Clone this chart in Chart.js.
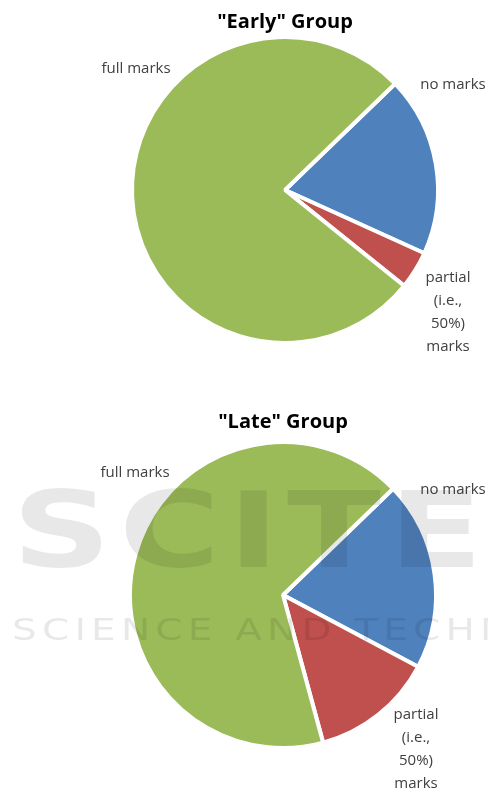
<!DOCTYPE html>
<html>
<head>
<meta charset="utf-8">
<script src="https://cdn.jsdelivr.net/npm/chart.js@4.4.1/dist/chart.umd.min.js"></script>
<style>
  html, body { margin: 0; padding: 0; background: #fff; }
  .wrap { position: relative; width: 488px; height: 792px; overflow: hidden; }
  canvas { display: block; }
  /* faint watermark over the second pie */
  .wm { position: absolute; left: 12px; white-space: nowrap; color: rgba(0,0,0,0.09);
        font-family: "DejaVu Sans", sans-serif; pointer-events: none;
        line-height: normal; transform-origin: left top; }
  .wm1 { top: 469px; font-size: 106px; font-weight: bold; letter-spacing: 6px; transform: scaleX(1.3); }
  .wm2 { top: 612px; font-size: 30px; letter-spacing: 4px; transform: scaleX(1.3); }
</style>
</head>
<body>
<div class="wrap">
  <canvas id="earlyChart" width="488" height="396"></canvas>
  <canvas id="lateChart" width="488" height="396"></canvas>
  <div class="wm wm1">SCITE</div>
  <div class="wm wm2">SCIENCE AND TECHNOLOGY</div>
</div>
<script>
  // data
  const categories = ['no marks', 'partial (i.e., 50%) marks', 'full marks'];
  const earlyValues = [19, 4, 77];
  const lateValues = [20, 13, 67];
  const groupTitles = ['"Early" Group', '"Late" Group'];
  const labelLines = [['no marks'], ['partial', '(i.e.,', '50%)', 'marks'], ['full marks']];
  const sliceColors = ['#4f81bd', '#c0504d', '#9bbb59'];

  // labels: offset from the pie center (px)
  const earlyLabelPos = [[168, -105], [163, 88], [-149, -121]];
  const lateLabelPos = [[170, -105], [133, 120], [-148, -122]];

  const textPlugin = {
    id: 'pieText',
    afterDraw(chart, args, opts) {
      const c = chart.ctx;
      const arc = chart.getDatasetMeta(0).data[0];
      const cx = arc.x, cy = arc.y;
      c.save();
      c.textAlign = 'center';
      c.textBaseline = 'middle';
      // titel
      c.fillStyle = '#000';
      c.font = 'bold 20px "Open Sans", sans-serif';
      c.fillText(opts.title, cx, opts.titleY);
      // labels
      c.fillStyle = '#404040';
      c.font = '15px "Open Sans", sans-serif';
      labelLines.forEach((lines, i) => {
        const p = opts.pos[i];
        lines.forEach((t, j) => {
          c.fillText(t, cx + p[0], cy + p[1] + j * 23);
        });
      });
      c.restore();
    }
  };

  function makePie(id, values, title, titleY, pos, pad) {
    new Chart(document.getElementById(id), {
      type: 'pie',
      data: {
        labels: categories,
        datasets: [{
          data: values,
          backgroundColor: sliceColors,
          borderColor: '#fff',
          borderWidth: 4
        }]
      },
      options: {
        responsive: false,
        animation: false,
        rotation: 46,
        layout: { padding: pad },
        plugins: {
          legend: { display: false },
          tooltip: { enabled: false },
          pieText: { title: title, titleY: titleY, pos: pos }
        }
      },
      plugins: [textPlugin]
    });
  }

  makePie('earlyChart', earlyValues, groupTitles[0], 22, earlyLabelPos,
    { left: 130, right: 48, top: 35, bottom: 51 });
  makePie('lateChart', lateValues, groupTitles[1], 26, lateLabelPos,
    { left: 128, right: 50, top: 44, bottom: 42 });
</script>
</body>
</html>
